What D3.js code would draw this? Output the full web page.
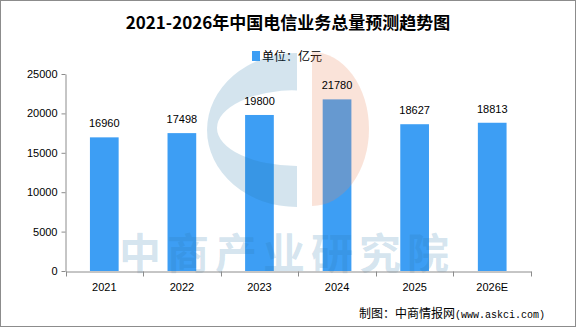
<!DOCTYPE html>
<html>
<head>
<meta charset="utf-8">
<script src="https://cdn.jsdelivr.net/npm/d3@7"></script>
<style>
  html, body { margin: 0; padding: 0; background: #fff; }
  svg { display: block; }
</style>
</head>
<body>
<div id="chart"></div>
<script>
// chart data
const years = ['2021', '2022', '2023', '2024', '2025', '2026E'];
const totals = [16960, 17498, 19800, 21780, 18627, 18813];
const yTicks = [0, 5000, 10000, 15000, 20000, 25000];

const W = 576, H = 327;
const svg = d3.select('#chart').append('svg')
  .attr('width', W)
  .attr('height', H);

// outer frame
svg.append('rect')
  .attr('x', 0.5).attr('y', 0.5)
  .attr('width', W - 1).attr('height', H - 1)
  .attr('fill', '#fff')
  .attr('stroke', '#8c8c8c');

// title
svg.append('text')
  .attr('x', 288)
  .attr('y', 29)
  .attr('text-anchor', 'middle')
  .style('font-family', '"Noto Sans CJK SC", sans-serif')
  .style('font-weight', 'bold')
  .style('font-size', '17px')
  .text('2021-2026年中国电信业务总量预测趋势图');

// legend
svg.append('rect')
  .attr('x', 252).attr('y', 51)
  .attr('width', 8).attr('height', 10)
  .attr('fill', '#3d9ef4');
svg.append('text')
  .attr('x', 262).attr('y', 61)
  .style('font-family', '"Noto Sans CJK SC", sans-serif')
  .style('font-size', '12px')
  .text('单位：亿元');

// scales
const x = d3.scaleBand()
  .domain(years)
  .range([65.5, 531])
  .paddingInner(0.63)
  .paddingOuter(0.315);

const y = d3.scaleLinear()
  .domain([0, 25000])
  .range([271, 74]);

// bars
svg.selectAll('.bar')
  .data(totals)
  .join('rect')
  .attr('class', 'bar')
  .attr('x', (d, i) => x(years[i]))
  .attr('y', d => y(d))
  .attr('width', x.bandwidth())
  .attr('height', d => y(0) - y(d))
  .attr('fill', '#3d9ef4');

// watermark (logo + company name)
const wm = svg.append('g').style('pointer-events', 'none');
wm.append('path')
  .attr('fill-rule', 'evenodd')
  .attr('fill', 'rgb(40,120,170)')
  .attr('fill-opacity', 0.2)
  .attr('d', 'M297,53 A90,77 0 0 0 297,207 Z M297,90 A80,38 0 0 0 297,166 Z');
wm.append('path')
  .attr('fill', 'rgb(234,137,95)')
  .attr('fill-opacity', 0.24)
  .attr('d', 'M312,52 A57,77 0 0 1 312,206 Z');
wm.append('text')
  .attr('x', 119)
  .attr('y', 269)
  .attr('fill', 'rgb(40,120,170)')
  .attr('fill-opacity', 0.2)
  .style('font-family', '"Noto Sans CJK SC", sans-serif')
  .style('font-weight', 'bold')
  .style('font-size', '42px')
  .style('letter-spacing', '6px')
  .text('中商产业研究院');

// value labels
svg.selectAll('.val')
  .data(totals)
  .join('text')
  .attr('class', 'val')
  .attr('x', (d, i) => x(years[i]) + x.bandwidth() / 2)
  .attr('y', d => y(d) - 10)
  .attr('text-anchor', 'middle')
  .style('font-family', '"Liberation Sans", sans-serif')
  .style('font-size', '11px')
  .text(d => d);

// y axis
const yAxis = svg.append('g')
  .attr('transform', 'translate(65.5,0)')
  .call(d3.axisLeft(y).tickValues(yTicks).tickFormat(d3.format('d'))
    .tickSize(4).tickSizeOuter(0).tickPadding(4));
yAxis.select('.domain').attr('stroke', '#8c8c8c');
yAxis.selectAll('.tick line').attr('stroke', '#8c8c8c');
yAxis.selectAll('.tick text')
  .style('font-family', '"Liberation Sans", sans-serif')
  .style('font-size', '11px')
  .attr('fill', '#000');

// x axis
const xAxis = svg.append('g')
  .attr('transform', 'translate(0,271.5)')
  .call(d3.axisBottom(x).tickSize(0).tickPadding(12));
xAxis.select('.domain').attr('stroke', '#8c8c8c');
xAxis.selectAll('.tick text')
  .style('font-family', '"Liberation Sans", sans-serif')
  .style('font-size', '11px')
  .attr('fill', '#000');
// category boundary ticks
const bounds = years.map(d => x(d) - x.step() * x.paddingInner() / 2);
bounds.push(x.range()[1]);
xAxis.selectAll('.bound')
  .data(bounds)
  .join('line')
  .attr('class', 'bound')
  .attr('x1', d => Math.round(d) + 0.5)
  .attr('x2', d => Math.round(d) + 0.5)
  .attr('y1', 0).attr('y2', 5)
  .attr('stroke', '#8c8c8c');

// source note
const src = svg.append('text')
  .attr('x', 359).attr('y', 318);
src.append('tspan')
  .style('font-family', '"Noto Sans CJK SC", sans-serif')
  .style('font-size', '12px')
  .text('制图：中商情报网');
src.append('tspan')
  .style('font-family', '"Liberation Mono", monospace')
  .style('font-size', '10px')
  .text('(www.askci.com)');
</script>
</body>
</html>
